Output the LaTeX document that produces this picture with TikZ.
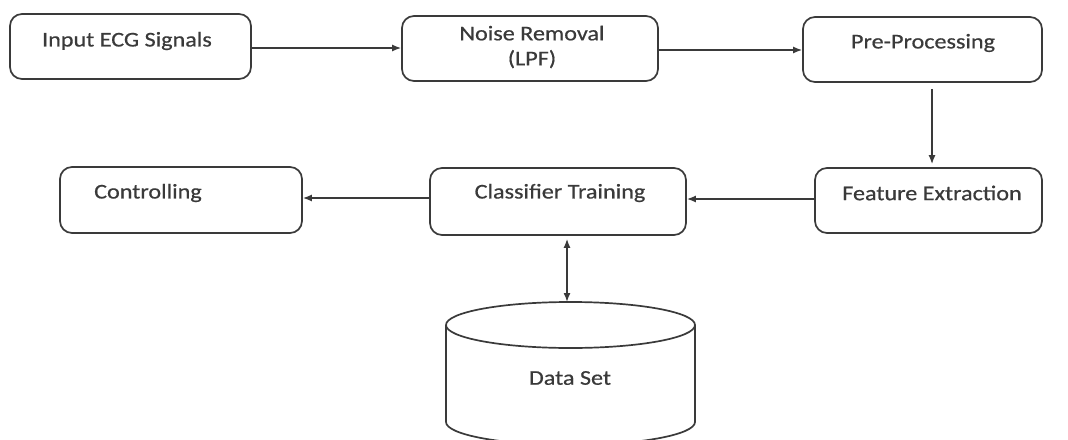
\documentclass[tikz,border=0pt]{standalone}
\usepackage{fontspec}
\setmainfont{Carlito}[FakeStretch=1.15, FakeBold=0.6]
\usetikzlibrary{arrows.meta}
\definecolor{ink}{HTML}{3A3A3A}
\begin{document}
\begin{tikzpicture}[x=1pt,y=1pt,
  box/.style={draw=ink, line width=1.7pt, rounded corners=12pt, inner sep=0pt},
  lbl/.style={text=ink, font=\fontsize{21}{25}\selectfont, inner sep=0pt, align=center},
  conn/.style={draw=ink, line width=1.5pt, -{Latex[length=9pt,width=7pt]}},
  conn2/.style={draw=ink, line width=1.5pt, {Latex[length=9pt,width=7pt]}-{Latex[length=9pt,width=7pt]}}]
\useasboundingbox (0,0) rectangle (1068,-439);
% boxes
\node[box, minimum width=241pt, minimum height=65pt] (b1) at (130.5,-46.5) {};
\node[box, minimum width=256pt, minimum height=65pt] (b2) at (530,-48.5) {};
\node[box, minimum width=239pt, minimum height=65pt] (b3) at (922.5,-49.5) {};
\node[box, minimum width=227pt, minimum height=65pt] (b4) at (928.5,-200.5) {};
\node[box, minimum width=256pt, minimum height=67pt] (b5) at (558,-201.5) {};
\node[box, minimum width=242pt, minimum height=66pt] (b6) at (181,-200) {};
% labels
\node[lbl] (t1) at (127,-41) {Input ECG Signals};
\node[lbl] (t2) at (532,-47) {Noise Removal\\(LPF)};
\node[lbl] (t3) at (923,-43) {Pre-Processing};
\node[lbl] (t4) at (932,-193) {Feature Extraction};
\node[lbl] (t5) at (560,-193) {Classifier Training};
\node[lbl] (t6) at (148,-193) {Controlling};
% cylinder
\draw[draw=ink, line width=1.7pt] (446,-325) -- (446,-422)
  arc[start angle=180, end angle=360, x radius=124.5pt, y radius=23pt] -- (695,-325);
\draw[draw=ink, line width=1.7pt] (570.5,-325) ellipse [x radius=124.5pt, y radius=23pt];
\coordinate (dtop) at (567,-302);
\node[lbl] (t7) at (570,-378) {Data Set};
% connectors
\draw[conn] (b1.east |- 0,-48) -- (b2.west |- 0,-48);
\draw[conn] (b2.east |- 0,-50) -- (b3.west |- 0,-50);
\draw[conn, shorten <=6pt, shorten >=3pt] (b3.south -| 932,0) -- (b4.north -| 932,0);
\draw[conn] (b4.west |- 0,-199) -- (b5.east |- 0,-199);
\draw[conn] (b5.west |- 0,-198) -- (b6.east |- 0,-198);
\draw[conn2, shorten <=3pt] (b5.south -| dtop) -- (dtop);
\end{tikzpicture}
\end{document}
